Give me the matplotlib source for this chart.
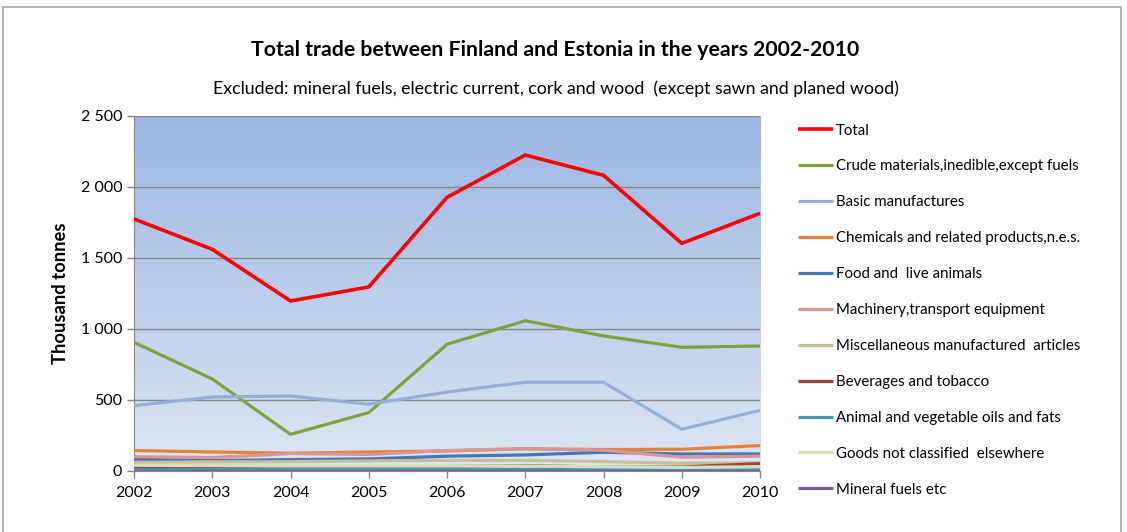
import numpy as np
import matplotlib
matplotlib.use('Agg')
import matplotlib.pyplot as plt
from matplotlib.patches import Rectangle
from matplotlib.ticker import FuncFormatter

plt.rcParams['font.family'] = ['Lato', 'DejaVu Sans']

years = [2002, 2003, 2004, 2005, 2006, 2007, 2008, 2009, 2010]

total = [1775, 1561, 1197, 1296, 1927, 2225, 2082, 1603, 1815]
crude = [906, 648, 258, 411, 892, 1058, 951, 871, 880]
basic = [460, 521, 528, 470, 556, 625, 625, 294, 427]
chemicals = [144, 134, 125, 134, 141, 156, 151, 153, 179]
food = [83, 73, 80, 85, 104, 113, 132, 120, 120]
machinery = [101, 94, 123, 116, 144, 158, 146, 97, 104]
misc = [61, 64, 66, 71, 75, 75, 66, 54, 57]
beverages = [24, 26, 28, 28, 31, 38, 28, 28, 52]
oils = [9, 9, 8, 8, 9, 10, 9, 8, 9]
not_classified = [40, 38, 35, 35, 35, 35, 30, 25, 30]
mineral = [2, 2, 2, 2, 2, 2, 2, 2, 2]

labels = ['Total',
          'Crude materials,inedible,except fuels',
          'Basic manufactures',
          'Chemicals and related products,n.e.s.',
          'Food and  live animals',
          'Machinery,transport equipment',
          'Miscellaneous manufactured  articles',
          'Beverages and tobacco',
          'Animal and vegetable oils and fats',
          'Goods not classified  elsewhere',
          'Mineral fuels etc']
series = [total, crude, basic, chemicals, food, machinery, misc,
          beverages, oils, not_classified, mineral]
colors = ['#FF0000', '#7FA13F', '#93AFD6', '#E5823A', '#4677B4',
          '#D99694', '#C6BF9A', '#A63F3C', '#3F9AB2', '#D3E2B6', '#775C9E']

fig = plt.figure(figsize=(11.27, 5.32), dpi=100)

# outer chart frame
fig.patches.append(Rectangle((0.003, -0.01), 0.992, 0.996, transform=fig.transFigure,
                             fill=False, edgecolor='#A6A6A6', linewidth=1.2))

ax = fig.add_axes([0.1189, 0.1147, 0.5555, 0.6673])

# gradient background of plot area
grad = np.linspace(0, 1, 256).reshape(-1, 1)
top = np.array([0x9B, 0xB6, 0xE2]) / 255
bot = np.array([0xDD, 0xE6, 0xF3]) / 255
img = top + (bot - top) * grad[:, :, None]
ax.imshow(img, extent=[0, 1, 0, 1], transform=ax.transAxes, aspect='auto', zorder=0)

for s, lab, c in zip(series, labels, colors):
    lw = 2.6 if lab == 'Total' else 2.3
    ax.plot(years, s, color=c, linewidth=lw, label=lab, zorder=3,
            solid_capstyle='butt', solid_joinstyle='miter')

ax.set_xlim(2002, 2010)
ax.set_ylim(0, 2500)
ax.set_xticks(years)
ax.set_yticks([0, 500, 1000, 1500, 2000, 2500])
ax.yaxis.set_major_formatter(FuncFormatter(lambda v, p: f'{int(v):,}'.replace(',', ' ')))
ax.grid(axis='y', color='#868686', linewidth=1)
for gl in ax.get_ygridlines():
    gl.set_zorder(1)

for side in ['top', 'right']:
    ax.spines[side].set_visible(False)
ax.spines['left'].set_color('#868686')
ax.spines['bottom'].set_color('#868686')
ax.tick_params(axis='both', colors='#868686', labelcolor='black', labelsize=11.5,
               length=5, width=1)
ax.tick_params(axis='x', pad=6)

ax.set_ylabel('Thousand tonnes', fontsize=13.2, fontweight='bold', labelpad=8)

fig.text(0.493, 0.906, 'Total trade between Finland and Estonia in the years 2002-2010',
         ha='center', va='center', fontsize=15.3, fontweight='bold')
fig.text(0.493, 0.834,
         'Excluded: mineral fuels, electric current, cork and wood  (except sawn and planed wood)',
         ha='center', va='center', fontsize=12.8)

leg = fig.legend(loc='upper left', bbox_to_anchor=(0.703, 0.779), frameon=False,
                 fontsize=10.8, handlelength=2.3, handletextpad=0.2,
                 labelspacing=1.46, borderaxespad=0)

fig.savefig('out.png', dpi=100)
